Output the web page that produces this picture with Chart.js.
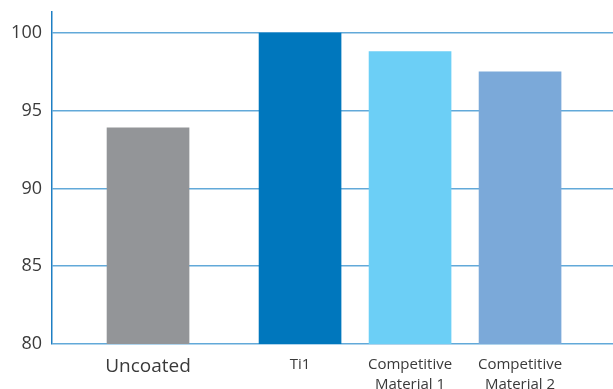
<!DOCTYPE html>
<html>
<head>
<meta charset="utf-8">
<script src="https://cdn.jsdelivr.net/npm/chart.js@4.4.0/dist/chart.umd.min.js"></script>
<style>
  html, body { margin: 0; padding: 0; background: #fff; overflow: hidden; }
  #wrap { width: 613px; height: 410px; position: relative; }
</style>
</head>
<body>
<div id="wrap"><canvas id="c"></canvas></div>
<script>
// Relative performance, baseline bar followed by the coated materials
const categories = ['Uncoated', 'Ti1', 'Competitive Material 1', 'Competitive Material 2'];
const values = [93.9, 100, 98.8, 97.5];
const barColors = ['#939598', '#0077bd', '#6ccff6', '#7ba9d9'];
const yTicks = [80, 85, 90, 95, 100];

// Extra space that separates the baseline bar from the rest of the group
const leadGap = 0.382;
const xPos = categories.map((_, i) => i + (i > 0 ? leadGap : 0));

const FONT = '"Open Sans", "Noto Sans", sans-serif';

new Chart(document.getElementById('c'), {
  type: 'bar',
  data: {
    datasets: [{
      data: categories.map((_, i) => ({ x: xPos[i], y: values[i] })),
      backgroundColor: barColors,
      borderWidth: 0,
      barThickness: 82
    }]
  },
  options: {
    responsive: true,
    maintainAspectRatio: false,
    animation: false,
    layout: { padding: { top: 12, right: 0, left: 0, bottom: 0 } },
    plugins: { legend: { display: false }, tooltip: { enabled: false } },
    scales: {
      x: {
        type: 'linear',
        offset: false,
        min: -0.873,
        max: 4.227,
        grid: { display: false },
        border: { display: false },
        afterBuildTicks: s => { s.ticks = xPos.map(v => ({ value: v })); },
        afterFit: s => { s.height = 66; },
        ticks: {
          autoSkip: false,
          maxRotation: 0,
          minRotation: 0,
          padding: 3,
          color: '#3a3a3a',
          font: ctx => ctx.index === 0
            ? { family: FONT, size: 19 }
            : { family: FONT, size: 15, lineHeight: 1.3 },
          callback: (v, i) => {
            const name = categories[i];
            const parts = name.split(' ');
            return parts.length > 2 ? [parts[0], parts.slice(1).join(' ')] : name;
          }
        }
      },
      y: {
        min: 80,
        max: 101.35,
        afterBuildTicks: s => { s.ticks = yTicks.map(v => ({ value: v })); },
        afterFit: s => { s.width = 52; s.paddingTop = 0; s.paddingBottom = 0; },
        grid: {
          color: '#62a9d9',
          lineWidth: 1.5,
          drawTicks: false
        },
        border: { display: true, color: '#1e7fc3', width: 1.5 },
        ticks: {
          padding: 10,
          color: '#3a3a3a',
          font: { family: FONT, size: 18 }
        }
      }
    }
  }
});
</script>
</body>
</html>
